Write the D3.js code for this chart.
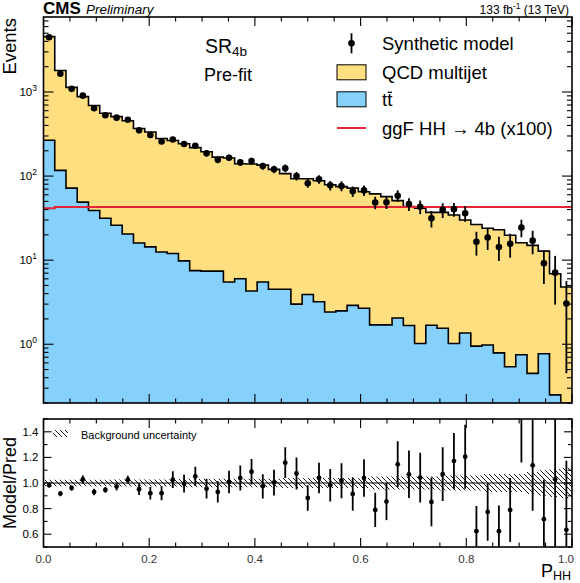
<!DOCTYPE html>
<html>
<head>
<meta charset="utf-8">
<script src="https://cdn.jsdelivr.net/npm/d3@7"></script>
<style>
  html, body { margin: 0; padding: 0; background: #fff; }
  .vis { width: 580px; height: 583px; }
  text { font-family: "Liberation Sans", Arial, Helvetica, sans-serif; fill: #000; }
</style>
</head>
<body>
<div class="vis"></div>
<script>
// P_HH bins: 47 equal bins between 0 and 1
var binLo = 0, binHi = 1, nBins = 47;

// stacked background, total (QCD multijet + ttbar) and ttbar alone
var bkgTotal = [4560, 1800, 1135, 880, 690, 560, 510, 455, 368, 335,
  280, 265, 242, 218, 195, 168, 164, 140, 139, 135,
  120, 107, 93, 93, 88, 79, 75, 72, 65, 61.5,
  57, 51, 43.5, 41.5, 37, 37, 34.5, 30, 26.5, 24,
  23, 19.8, 16.1, 15, 12.8, 6.9, 4.8];
var ttbar = [267, 117, 72, 49, 39, 31.5, 26, 20.5, 16, 14.4,
  12.5, 12, 9.8, 7.5, 7.4, 7.4, 5.5, 6.0, 4.3, 5.5,
  4.5, 4.5, 3.0, 3.9, 3.2, 2.42, 2.49, 2.9, 2.68, 1.7,
  1.7, 2.05, 1.67, 1.02, 1.68, 1.55, 1.02, 1.36, 0.95, 0.98,
  0.79, 0.54, 0.75, 0.45, 0.77, 0.25, 0.19];
// ggF HH -> 4b signal, scaled x100
var signal = [41.5, 43, 43, 43, 43, 43, 43, 43, 43, 43,
  43, 43, 43, 43, 43, 43, 43, 43, 43, 43,
  43, 43, 43, 43, 43, 43, 43, 43, 43, 43,
  43, 43, 43, 43, 43, 43, 43, 43, 43, 43,
  43, 43, 43, 43, 43, 43, 43];
// synthetic model / prediction, and its error
var ratio = [0.982, 0.917, 0.961, 1.029, 0.930, 0.946, 0.972, 1.026, 0.951, 0.920,
  0.920, 1.026, 0.995, 1.052, 0.956, 0.930, 1.008, 1.039, 1.088, 0.974,
  1.003, 1.159, 1.075, 0.883, 1.039, 0.982, 1.018, 0.914, 1.039, 0.790,
  0.855, 1.146, 1.068, 1.042, 0.852, 1.070, 1.171, 1.205, 0.624, 0.774,
  0.624, 0.790, 1.52, 1.138, 0.717, 1.029, 0.634];
var ratioErr = [0.015, 0.02, 0.02, 0.03, 0.025, 0.022, 0.03, 0.03, 0.045, 0.048,
  0.055, 0.065, 0.07, 0.075, 0.078, 0.083, 0.088, 0.097, 0.1, 0.095,
  0.1, 0.12, 0.125, 0.1, 0.12, 0.127, 0.137, 0.13, 0.147, 0.134,
  0.145, 0.18, 0.185, 0.195, 0.19, 0.21, 0.22, 0.25, 0.197, 0.225,
  0.2, 0.25, 0.36, 0.355, 0.31, 0.6, 0.54];
// relative background uncertainty (hatched band)
var bkgUnc = [0.025, 0.025, 0.025, 0.025, 0.025, 0.025, 0.028, 0.028, 0.028, 0.028,
  0.028, 0.028, 0.033, 0.033, 0.033, 0.033, 0.033, 0.033, 0.033, 0.033,
  0.033, 0.04, 0.04, 0.04, 0.04, 0.04, 0.04, 0.04, 0.04, 0.05,
  0.05, 0.05, 0.05, 0.05, 0.05, 0.058, 0.058, 0.058, 0.058, 0.07,
  0.07, 0.07, 0.07, 0.085, 0.1, 0.11, 0.12];

var xTicksMajor = [0, 0.2, 0.4, 0.6, 0.8, 1.0];
var xTickLabels = ['0.0', '0.2', '0.4', '0.6', '0.8', '1.0'];
var yDecades = [1, 10, 100, 1000];
var rTicksMajor = [0.6, 0.8, 1.0, 1.2, 1.4];
var rTickLabels = ['0.6', '0.8', '1.0', '1.2', '1.4'];

(function() {
  'use strict';

  var el = d3.select('.vis'),
    W = 580, H = 583,
    L = 43.5, R = 572,
    T1 = 17, B1 = 403,
    T2 = 419, B2 = 547;

  var svg = el.append('svg')
      .attr('width', W)
      .attr('height', H);

  var x = d3.scaleLinear().domain([binLo, binHi]).range([L, R]);
  var y = d3.scaleLog().domain([0.2, 7800]).range([B1, T1]).clamp(true);
  var yr = d3.scaleLinear().domain([0.5, 1.5]).range([B2, T2]);

  var binW = (binHi - binLo) / nBins;
  var edges = d3.range(nBins + 1).map(function(i) { return binLo + i * binW; });
  var centers = d3.range(nBins).map(function(i) { return binLo + (i + 0.5) * binW; });

  var defs = svg.append('defs');
  defs.append('clipPath').attr('id', 'clipTop')
    .append('rect').attr('x', L).attr('y', T1).attr('width', R - L).attr('height', B1 - T1);
  defs.append('clipPath').attr('id', 'clipBot')
    .append('rect').attr('x', L).attr('y', T2).attr('width', R - L).attr('height', B2 - T2);
  var pat = defs.append('pattern').attr('id', 'hatch')
      .attr('patternUnits', 'userSpaceOnUse')
      .attr('width', 5).attr('height', 5);
  pat.append('path')
      .attr('d', 'M-1,-1L6,6M-1,4L1,6M4,-1L6,1')
      .attr('stroke', '#000').attr('stroke-width', 0.9);

  // step points of a histogram
  function steps(vals, sy) {
    var pts = [];
    vals.forEach(function(v, i) {
      pts.push([x(edges[i]), sy(v)]);
      pts.push([x(edges[i + 1]), sy(v)]);
    });
    return pts;
  }

  var line = d3.line();
  var area = d3.area().x(function(d) { return d[0]; }).y0(B1).y1(function(d) { return d[1]; });

  // ---------- upper panel ----------
  var top = svg.append('g').attr('clip-path', 'url(#clipTop)');

  top.append('path')
      .attr('d', area(steps(bkgTotal, y)))
      .attr('fill', '#FFDF7F');
  top.append('path')
      .attr('d', area(steps(ttbar, y)))
      .attr('fill', '#85D1FB');
  top.append('path')
      .attr('d', line(steps(bkgTotal, y)))
      .attr('fill', 'none').attr('stroke', '#000').attr('stroke-width', 1.6);
  top.append('path')
      .attr('d', line(steps(ttbar, y)))
      .attr('fill', 'none').attr('stroke', '#000').attr('stroke-width', 1.6);
  top.append('path')
      .attr('d', line(steps(signal, y)))
      .attr('fill', 'none').attr('stroke', '#E42536').attr('stroke-width', 2);

  var counts = ratio.map(function(r, i) { return r * bkgTotal[i]; });
  var countErr = ratioErr.map(function(e, i) { return e * bkgTotal[i]; });

  top.selectAll('.errTop')
      .data(centers)
    .enter().append('line')
      .attr('class', 'errTop')
      .attr('x1', function(d) { return x(d); })
      .attr('x2', function(d) { return x(d); })
      .attr('y1', function(d, i) { return y(counts[i] + countErr[i]); })
      .attr('y2', function(d, i) { return y(Math.max(counts[i] - countErr[i], 0.01)); })
      .attr('stroke', '#000').attr('stroke-width', 1.8);
  top.selectAll('.ptTop')
      .data(centers)
    .enter().append('circle')
      .attr('class', 'ptTop')
      .attr('cx', function(d) { return x(d); })
      .attr('cy', function(d, i) { return y(counts[i]); })
      .attr('r', 3.3)
      .attr('fill', '#000');

  // ---------- lower panel ----------
  var bot = svg.append('g').attr('clip-path', 'url(#clipBot)');
  var band = d3.area()
      .x(function(d) { return d[0]; })
      .y0(function(d) { return d[1]; })
      .y1(function(d) { return d[2]; });
  var bandPts = [];
  bkgUnc.forEach(function(u, i) {
    bandPts.push([x(edges[i]), yr(1 - u), yr(1 + u)]);
    bandPts.push([x(edges[i + 1]), yr(1 - u), yr(1 + u)]);
  });
  bot.append('path')
      .attr('d', band(bandPts))
      .attr('fill', 'url(#hatch)');
  bot.append('line')
      .attr('x1', L).attr('x2', R)
      .attr('y1', yr(1)).attr('y2', yr(1))
      .attr('stroke', '#000').attr('stroke-width', 1);

  bot.selectAll('.errBot')
      .data(centers)
    .enter().append('line')
      .attr('class', 'errBot')
      .attr('x1', function(d) { return x(d); })
      .attr('x2', function(d) { return x(d); })
      .attr('y1', function(d, i) { return yr(ratio[i] + ratioErr[i]); })
      .attr('y2', function(d, i) { return yr(ratio[i] - ratioErr[i]); })
      .attr('stroke', '#000').attr('stroke-width', 1.8);
  bot.selectAll('.ptBot')
      .data(centers)
    .enter().append('circle')
      .attr('class', 'ptBot')
      .attr('cx', function(d) { return x(d); })
      .attr('cy', function(d, i) { return yr(ratio[i]); })
      .attr('r', 2.4)
      .attr('fill', '#000');

  // ---------- frames and ticks ----------
  var axes = svg.append('g').attr('stroke', '#000');

  function frame(t, b) {
    axes.append('rect')
        .attr('x', L).attr('y', t).attr('width', R - L).attr('height', b - t)
        .attr('fill', 'none').attr('stroke-width', 1.6);
  }
  function xTicks(t, b) {
    d3.range(0, 21).forEach(function(k) {
      var v = k * 0.05, len = (k % 4 === 0) ? 9 : 4.5, px = x(v);
      axes.append('line').attr('x1', px).attr('x2', px).attr('y1', b).attr('y2', b - len).attr('stroke-width', 1.1);
      axes.append('line').attr('x1', px).attr('x2', px).attr('y1', t).attr('y2', t + len).attr('stroke-width', 1.1);
    });
  }
  function yTick(py, len) {
    axes.append('line').attr('x1', L).attr('x2', L + len).attr('y1', py).attr('y2', py).attr('stroke-width', 1.1);
    axes.append('line').attr('x1', R).attr('x2', R - len).attr('y1', py).attr('y2', py).attr('stroke-width', 1.1);
  }

  frame(T1, B1);
  frame(T2, B2);
  xTicks(T1, B1);
  xTicks(T2, B2);

  // log ticks
  [0.1, 1, 10, 100, 1000].forEach(function(dec) {
    d3.range(1, 10).forEach(function(m) {
      var v = dec * m;
      if (v < 0.2 || v > 7800) return;
      yTick(y(v), m === 1 ? 10 : 5);
    });
  });
  // ratio ticks
  d3.range(0, 11).forEach(function(k) {
    var v = 0.5 + k * 0.1;
    var major = rTicksMajor.some(function(t) { return Math.abs(t - v) < 1e-6; });
    yTick(yr(v), major ? 8 : 4);
  });

  // tick labels
  var labels = svg.append('g').style('font-size', '11.5px');
  yDecades.forEach(function(v) {
    var t = labels.append('text')
        .attr('x', 37).attr('y', y(v) + 4)
        .attr('text-anchor', 'end');
    t.append('tspan').text('10');
    t.append('tspan').attr('dy', -5).style('font-size', '8.5px').text(String(Math.round(Math.log10(v))));
  });
  rTicksMajor.forEach(function(v, i) {
    labels.append('text')
        .attr('x', 38.5).attr('y', yr(v) + 4)
        .attr('text-anchor', 'end')
        .text(rTickLabels[i]);
  });
  xTicksMajor.forEach(function(v, i) {
    var last = i === xTicksMajor.length - 1;
    labels.append('text')
        .attr('x', last ? 574 : x(v)).attr('y', 563)
        .attr('text-anchor', last ? 'end' : 'middle')
        .style('fill', '#333')
        .text(xTickLabels[i]);
  });

  // axis titles
  svg.append('text')
      .attr('transform', 'translate(15.5,18) rotate(-90)')
      .attr('text-anchor', 'end')
      .style('font-size', '18.5px')
      .text('Events');
  svg.append('text')
      .attr('transform', 'translate(15.5,' + yr(1) + ') rotate(-90)')
      .attr('text-anchor', 'middle')
      .style('font-size', '18px')
      .text('Model/Pred');
  var xt = svg.append('text')
      .attr('x', 571).attr('y', 577)
      .attr('text-anchor', 'end')
      .style('font-size', '18px');
  xt.append('tspan').text('P');
  xt.append('tspan').attr('dy', 2.5).style('font-size', '12.5px').text('HH');

  // header
  svg.append('text')
      .attr('x', 43).attr('y', 14)
      .style('font-size', '17px').style('font-weight', 'bold')
      .text('CMS');
  svg.append('text')
      .attr('x', 86).attr('y', 13.5)
      .style('font-size', '13.5px').style('font-style', 'italic')
      .text('Preliminary');
  var lumi = svg.append('text')
      .attr('x', 569).attr('y', 13.5)
      .attr('text-anchor', 'end')
      .style('font-size', '12px');
  lumi.append('tspan').text('133 fb');
  lumi.append('tspan').attr('dy', -4.5).style('font-size', '8.5px').text('-1');
  lumi.append('tspan').attr('dy', 4.5).text(' (13 TeV)');

  // region labels
  var sr = svg.append('text')
      .attr('x', 205).attr('y', 53)
      .style('font-size', '19.5px');
  sr.append('tspan').text('SR');
  sr.append('tspan').attr('dy', 3).style('font-size', '13.5px').text('4b');
  svg.append('text')
      .attr('x', 204).attr('y', 81)
      .style('font-size', '18px')
      .text('Pre-fit');

  // legend
  var leg = svg.append('g').style('font-size', '18.5px');
  var lx = 337, lw = 29, tx = 382, rows = [43.3, 72.3, 99.3, 128];
  leg.append('line')
      .attr('x1', lx + lw / 2).attr('x2', lx + lw / 2)
      .attr('y1', rows[0] - 10).attr('y2', rows[0] + 10)
      .attr('stroke', '#000').attr('stroke-width', 1.8);
  leg.append('circle')
      .attr('cx', lx + lw / 2).attr('cy', rows[0]).attr('r', 3.3).attr('fill', '#000');
  leg.append('rect')
      .attr('x', lx).attr('y', rows[1] - 7.5).attr('width', lw).attr('height', 15)
      .attr('fill', '#FFDF7F').attr('stroke', '#000').attr('stroke-width', 1);
  leg.append('rect')
      .attr('x', lx).attr('y', rows[2] - 7.5).attr('width', lw).attr('height', 15)
      .attr('fill', '#85D1FB').attr('stroke', '#000').attr('stroke-width', 1);
  leg.append('line')
      .attr('x1', lx).attr('x2', lx + lw)
      .attr('y1', rows[3]).attr('y2', rows[3])
      .attr('stroke', '#E42536').attr('stroke-width', 2);
  leg.append('text').attr('x', tx).attr('y', rows[0] + 6.7).text('Synthetic model');
  leg.append('text').attr('x', tx).attr('y', rows[1] + 6.7).text('QCD multijet');
  leg.append('text').attr('x', tx).attr('y', rows[2] + 6.7).text('tt');
  leg.append('line')
      .attr('x1', tx + 5.6).attr('x2', tx + 10)
      .attr('y1', rows[2] - 7).attr('y2', rows[2] - 7)
      .attr('stroke', '#000').attr('stroke-width', 1.2);
  leg.append('text').attr('x', tx).attr('y', rows[3] + 6.7).text('ggF HH \u2192 4b (x100)');

  // ratio legend
  svg.append('rect')
      .attr('x', 53).attr('y', 430).attr('width', 15).attr('height', 7)
      .attr('fill', 'url(#hatch)');
  svg.append('text')
      .attr('x', 81).attr('y', 439)
      .style('font-size', '11px')
      .text('Background uncertainty');
}());
</script>
</body>
</html>
